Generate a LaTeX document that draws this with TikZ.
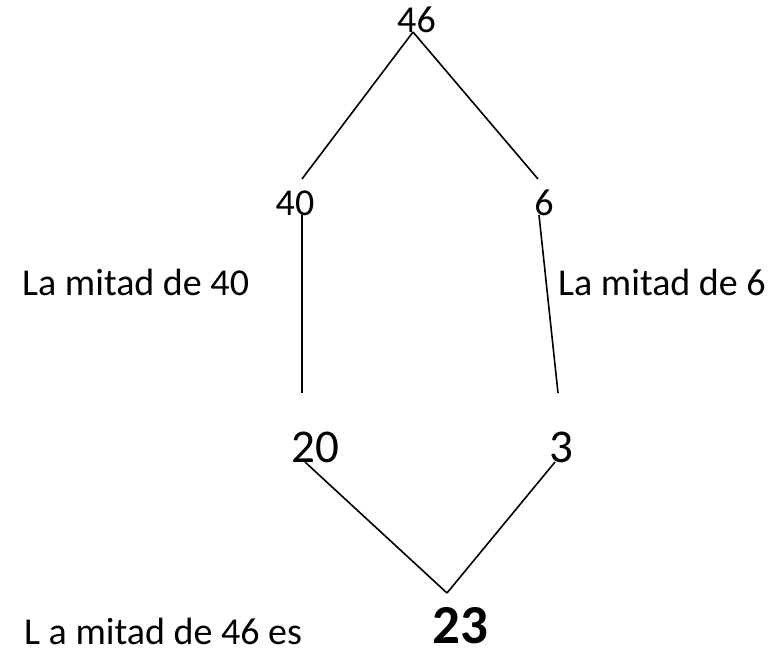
\documentclass[tikz,border=0pt]{standalone}
\usepackage{fontspec}
\setmainfont{Carlito}

\begin{document}
\begin{tikzpicture}[x=1pt,y=-1pt,
  num/.style={inner sep=0pt,anchor=base,font=\fontsize{38}{45}\selectfont},
  bignum/.style={inner sep=0pt,anchor=base,font=\fontsize{47}{56}\selectfont},
  txt/.style={inner sep=0pt,anchor=base west,font=\fontsize{38}{45}\selectfont},
  branch/.style={line width=1.6pt}]
\useasboundingbox (0,0) rectangle (771,653);

\node[num] (n46) at (416.5,32) {46};
\node[num] (n40) at (295,215) {40};
\node[num] (n6) at (544,215) {6};

\node[bignum] (n20) at (315.5,462) {20};
\node[bignum] (n3) at (561,462) {3};
\node[inner sep=0pt,anchor=base,text depth=0pt,font=\fontsize{55}{66}\selectfont\bfseries] (n23) at (460.5,643) {23};

\node[txt] (half40) at (22,295) {La mitad de 40};
\node[txt] (half6) at (558,295) {La mitad de 6};
\node[txt] (half46) at (24,644) {L a mitad de 46 es};

\draw[branch] ([xshift=-3.5pt]n46.base) -- ([xshift=7pt,yshift=36pt]n40.base);
\draw[branch] ([xshift=-3.5pt]n46.base) -- ([xshift=-6pt,yshift=36pt]n6.base);
\draw[branch] ([xshift=7pt]n40.base) -- ([xshift=-13.5pt,yshift=69pt]n20.base);
\draw[branch] ([xshift=-5pt]n6.base) -- ([xshift=-3pt,yshift=69pt]n3.base);
\draw[branch] ([xshift=-10.5pt]n20.base) -- ([xshift=-13.5pt,yshift=50pt]n23.base);
\draw[branch] ([xshift=-6pt]n3.base) -- ([xshift=-13.5pt,yshift=50pt]n23.base);

\end{tikzpicture}
\end{document}
